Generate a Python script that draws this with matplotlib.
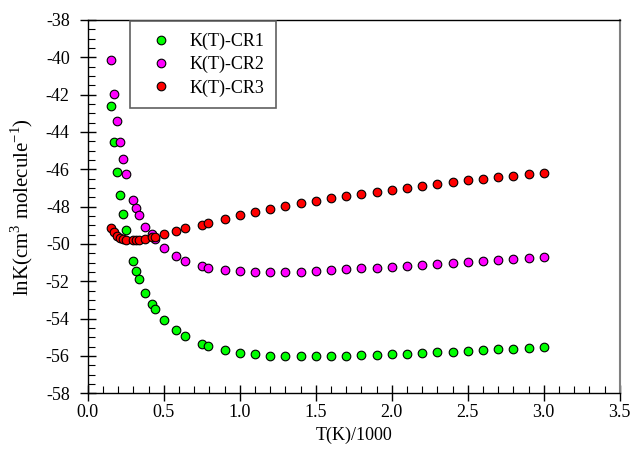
import matplotlib
matplotlib.use("Agg")
import matplotlib.pyplot as plt
from matplotlib.ticker import MultipleLocator, FormatStrFormatter

plt.rcParams['font.family'] = ['Liberation Serif', 'DejaVu Serif']
plt.rcParams['axes.unicode_minus'] = False
plt.rcParams['mathtext.fontset'] = 'custom'
plt.rcParams['mathtext.rm'] = 'Liberation Serif'

T = [0.15, 0.17, 0.19, 0.21, 0.23, 0.25, 0.298, 0.32, 0.34, 0.38, 0.42, 0.44,
     0.50, 0.58, 0.64, 0.75, 0.79, 0.9, 1.0, 1.1, 1.2, 1.3, 1.4, 1.5, 1.6, 1.7,
     1.8, 1.9, 2.0, 2.1, 2.2, 2.3, 2.4, 2.5, 2.6, 2.7, 2.8, 2.9, 3.0]

cr1 = [-42.59, -44.55, -46.12, -47.36, -48.41, -49.26, -50.93, -51.43, -51.87,
       -52.61, -53.20, -53.46, -54.05, -54.62, -54.94, -55.35, -55.46, -55.69,
       -55.82, -55.91, -55.98, -56.00, -56.01, -56.02, -56.01, -55.99, -55.97,
       -55.94, -55.91, -55.87, -55.84, -55.80, -55.77, -55.73, -55.68, -55.64,
       -55.61, -55.57, -55.51]

cr2 = [-40.16, -41.98, -43.39, -44.53, -45.46, -46.23, -47.66, -48.09, -48.46,
       -49.07, -49.48, -49.73, -50.23, -50.67, -50.91, -51.18, -51.27, -51.39,
       -51.44, -51.48, -51.50, -51.50, -51.48, -51.46, -51.41, -51.36, -51.31,
       -51.27, -51.21, -51.16, -51.12, -51.07, -51.02, -50.96, -50.91, -50.86,
       -50.80, -50.75, -50.71]

cr3 = [-49.12, -49.37, -49.57, -49.68, -49.75, -49.78, -49.78, -49.78, -49.77,
       -49.71, -49.61, -49.61, -49.48, -49.30, -49.16, -48.96, -48.87, -48.64,
       -48.46, -48.28, -48.12, -47.98, -47.82, -47.68, -47.55, -47.43, -47.30,
       -47.19, -47.09, -46.98, -46.87, -46.77, -46.68, -46.59, -46.50, -46.43,
       -46.34, -46.27, -46.19]

labels = ['K(T)-CR1', 'K(T)-CR2', 'K(T)-CR3']
colors = ['#00ff00', '#ff00ff', '#ff0000']

fig = plt.figure(figsize=(6.32, 4.58), dpi=100)
ax = fig.add_axes([87.7/632, 1-393.3/458, (619.7-87.7)/632, (393.3-20)/458])

for y, lab, c in zip([cr1, cr2, cr3], labels, colors):
    ax.plot(T, y, linestyle='none', marker='o', ms=6.2, mfc=c, mec='black',
            mew=0.8, label=lab)

ax.set_xlim(0, 3.5)
ax.set_ylim(-58, -38)
ax.xaxis.set_major_locator(MultipleLocator(0.5))
ax.xaxis.set_minor_locator(MultipleLocator(0.1))
ax.yaxis.set_major_locator(MultipleLocator(2))
ax.yaxis.set_minor_locator(MultipleLocator(0.5))
ax.xaxis.set_major_formatter(FormatStrFormatter('%.1f'))
ax.yaxis.set_major_formatter(FormatStrFormatter('%d'))

ax.tick_params(which='major', direction='inout', length=12, width=1,
               labelsize=13, top=False, right=False)
ax.tick_params(axis='x', which='major', pad=1.5)
ax.tick_params(axis='y', which='major', pad=7)
ax.tick_params(which='minor', direction='in', length=5, width=0.8,
               top=False, right=False)

for s in ['left', 'bottom', 'top']:
    ax.spines[s].set_color('black')
    ax.spines[s].set_linewidth(1)
ax.spines['right'].set_color('#808080')
ax.spines['right'].set_linewidth(1.5)

ax.set_xlabel('T(K)/1000', fontsize=13, labelpad=4)
ax.set_ylabel(r'lnK(cm$^3$ molecule$^{-1}$)', fontsize=15, labelpad=8)

leg = ax.legend(loc='upper left', bbox_to_anchor=(130/632, 1-21/458),
                bbox_transform=fig.transFigure, fontsize=13, frameon=True,
                fancybox=False, edgecolor='#606060', framealpha=1,
                handlelength=2.1, handletextpad=0.55, borderpad=0.65,
                borderaxespad=0, labelspacing=0.33, numpoints=1)
leg.get_frame().set_linewidth(1.2)

fig.savefig('out.png', dpi=100)
